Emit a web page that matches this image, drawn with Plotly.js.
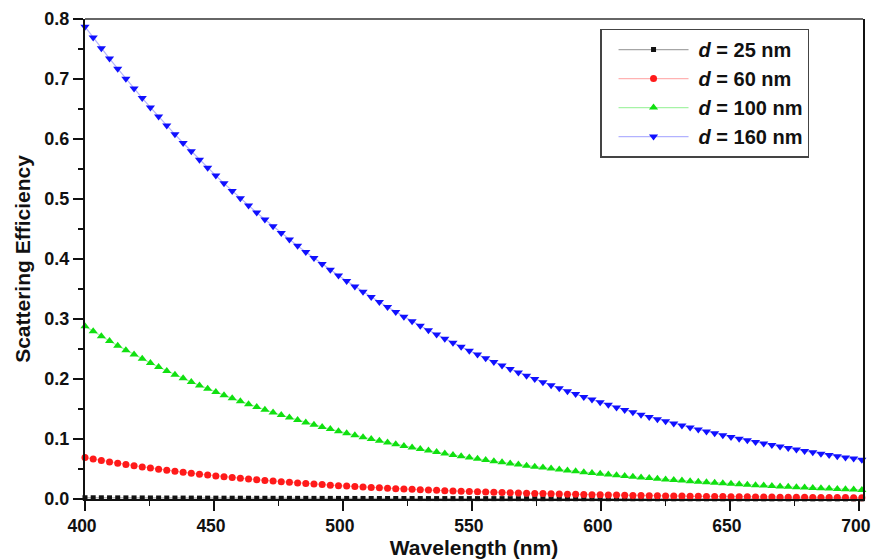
<!DOCTYPE html>
<html>
<head>
<meta charset="utf-8">
<script src="https://cdn.plot.ly/plotly-3.0.1.min.js"></script>
<style>
  html, body { margin: 0; padding: 0; background: #ffffff; }
  #chart { width: 871px; height: 559px; }
</style>
</head>
<body>
<div id="chart"></div>
<script>
// Wavelength grid (nm)
const wavelength = [
  400.00, 403.17, 406.34, 409.51, 412.68, 415.85, 419.02, 422.19, 425.36, 428.53,
  431.70, 434.87, 438.04, 441.21, 444.38, 447.55, 450.72, 453.89, 457.06, 460.23,
  463.40, 466.57, 469.74, 472.91, 476.08, 479.25, 482.42, 485.59, 488.76, 491.93,
  495.10, 498.27, 501.44, 504.61, 507.78, 510.95, 514.12, 517.29, 520.46, 523.63,
  526.80, 529.97, 533.14, 536.31, 539.48, 542.65, 545.82, 548.99, 552.16, 555.33,
  558.50, 561.67, 564.84, 568.01, 571.18, 574.35, 577.52, 580.69, 583.86, 587.03,
  590.20, 593.37, 596.54, 599.71, 602.88, 606.05, 609.22, 612.39, 615.56, 618.73,
  621.90, 625.07, 628.24, 631.41, 634.58, 637.75, 640.92, 644.09, 647.26, 650.43,
  653.60, 656.77, 659.94, 663.11, 666.28, 669.45, 672.62, 675.79, 678.96, 682.13,
  685.30, 688.47, 691.64, 694.81, 697.98, 701.15
];

// Scattering efficiency for each particle diameter
const q25 = [
  0.00210, 0.00205, 0.00200, 0.00195, 0.00190, 0.00186, 0.00181, 0.00177, 0.00173, 0.00168,
  0.00164, 0.00160, 0.00156, 0.00153, 0.00149, 0.00145, 0.00142, 0.00138, 0.00135, 0.00132,
  0.00128, 0.00125, 0.00122, 0.00119, 0.00116, 0.00113, 0.00111, 0.00108, 0.00105, 0.00103,
  0.00100, 0.00098, 0.00095, 0.00093, 0.00091, 0.00088, 0.00086, 0.00084, 0.00082, 0.00080,
  0.00078, 0.00076, 0.00074, 0.00072, 0.00071, 0.00069, 0.00067, 0.00066, 0.00064, 0.00062,
  0.00061, 0.00059, 0.00058, 0.00056, 0.00055, 0.00054, 0.00052, 0.00051, 0.00050, 0.00049,
  0.00047, 0.00046, 0.00045, 0.00044, 0.00043, 0.00042, 0.00041, 0.00040, 0.00039, 0.00038,
  0.00037, 0.00036, 0.00035, 0.00034, 0.00034, 0.00033, 0.00032, 0.00031, 0.00030, 0.00030,
  0.00029, 0.00028, 0.00028, 0.00027, 0.00026, 0.00026, 0.00025, 0.00024, 0.00024, 0.00023,
  0.00023, 0.00022, 0.00022, 0.00021, 0.00020, 0.00020
];

const q60 = [
  0.06900, 0.06653, 0.06415, 0.06185, 0.05964, 0.05750, 0.05544, 0.05346, 0.05155, 0.04970,
  0.04792, 0.04621, 0.04455, 0.04296, 0.04142, 0.03994, 0.03851, 0.03713, 0.03580, 0.03452,
  0.03328, 0.03209, 0.03094, 0.02984, 0.02877, 0.02774, 0.02675, 0.02579, 0.02487, 0.02398,
  0.02312, 0.02229, 0.02149, 0.02072, 0.01998, 0.01927, 0.01858, 0.01791, 0.01727, 0.01665,
  0.01606, 0.01548, 0.01493, 0.01439, 0.01388, 0.01338, 0.01290, 0.01244, 0.01200, 0.01157,
  0.01115, 0.01075, 0.01037, 0.01000, 0.00964, 0.00930, 0.00896, 0.00864, 0.00833, 0.00804,
  0.00775, 0.00747, 0.00720, 0.00695, 0.00670, 0.00646, 0.00623, 0.00600, 0.00579, 0.00558,
  0.00538, 0.00519, 0.00500, 0.00482, 0.00465, 0.00449, 0.00433, 0.00417, 0.00402, 0.00388,
  0.00374, 0.00361, 0.00348, 0.00335, 0.00323, 0.00312, 0.00300, 0.00290, 0.00279, 0.00269,
  0.00260, 0.00250, 0.00241, 0.00233, 0.00224, 0.00216
];

const q100 = [
  0.2880, 0.2795, 0.2713, 0.2633, 0.2556, 0.2481, 0.2407, 0.2336, 0.2267, 0.2200,
  0.2135, 0.2072, 0.2011, 0.1951, 0.1893, 0.1837, 0.1782, 0.1729, 0.1678, 0.1628,
  0.1579, 0.1532, 0.1486, 0.1442, 0.1399, 0.1357, 0.1316, 0.1277, 0.1239, 0.1201,
  0.1165, 0.1130, 0.1096, 0.1063, 0.1031, 0.1000, 0.0970, 0.0941, 0.0912, 0.0885,
  0.0858, 0.0832, 0.0807, 0.0782, 0.0758, 0.0735, 0.0713, 0.0691, 0.0670, 0.0650,
  0.0630, 0.0611, 0.0592, 0.0574, 0.0556, 0.0539, 0.0523, 0.0507, 0.0491, 0.0476,
  0.0461, 0.0447, 0.0433, 0.0420, 0.0407, 0.0395, 0.0382, 0.0371, 0.0359, 0.0348,
  0.0337, 0.0327, 0.0317, 0.0307, 0.0297, 0.0288, 0.0279, 0.0270, 0.0262, 0.0254,
  0.0246, 0.0238, 0.0231, 0.0223, 0.0216, 0.0210, 0.0203, 0.0197, 0.0191, 0.0185,
  0.0179, 0.0173, 0.0168, 0.0162, 0.0157, 0.0152
];

const q160 = [
  0.7871, 0.7690, 0.7513, 0.7340, 0.7171, 0.7005, 0.6842, 0.6683, 0.6527, 0.6374,
  0.6224, 0.6078, 0.5934, 0.5794, 0.5656, 0.5522, 0.5390, 0.5261, 0.5135, 0.5012,
  0.4891, 0.4773, 0.4657, 0.4544, 0.4433, 0.4325, 0.4219, 0.4116, 0.4015, 0.3916,
  0.3819, 0.3724, 0.3632, 0.3541, 0.3453, 0.3366, 0.3282, 0.3199, 0.3118, 0.3039,
  0.2962, 0.2887, 0.2814, 0.2742, 0.2671, 0.2603, 0.2536, 0.2471, 0.2407, 0.2344,
  0.2283, 0.2224, 0.2166, 0.2109, 0.2054, 0.2000, 0.1947, 0.1896, 0.1845, 0.1796,
  0.1749, 0.1702, 0.1657, 0.1612, 0.1569, 0.1527, 0.1485, 0.1445, 0.1406, 0.1368,
  0.1331, 0.1294, 0.1259, 0.1224, 0.1191, 0.1158, 0.1126, 0.1095, 0.1064, 0.1035,
  0.1006, 0.0978, 0.0951, 0.0924, 0.0898, 0.0873, 0.0848, 0.0824, 0.0801, 0.0778,
  0.0756, 0.0734, 0.0713, 0.0693, 0.0673, 0.0653
];

const seriesNames = ['<i>d</i> = 25 nm', '<i>d</i> = 60 nm', '<i>d</i> = 100 nm', '<i>d</i> = 160 nm'];
const seriesValues = [q25, q60, q100, q160];
const markerColors = ['#111111', '#ff1a1a', '#10e010', '#1010ff'];
const lineColors = ['rgba(0,0,0,0.35)', 'rgba(255,0,0,0.3)', 'rgba(0,220,0,0.35)', 'rgba(0,0,255,0.3)'];
const markerSymbols = ['square', 'circle', 'triangle-up', 'triangle-down'];
const markerSizes = [5, 7, 8, 8];

const FONT = 'Liberation Sans, Arial, Helvetica, sans-serif';

const traces = seriesValues.map((vals, i) => ({
  type: 'scatter',
  mode: 'lines+markers',
  x: wavelength,
  y: vals,
  name: seriesNames[i],
  cliponaxis: false,
  line: { color: lineColors[i], width: 1.2 },
  marker: { color: markerColors[i], symbol: markerSymbols[i], size: markerSizes[i], line: { width: 0 } }
}));

const layout = {
  width: 871,
  height: 559,
  margin: { l: 85, r: 8, t: 19, b: 60 },
  paper_bgcolor: '#ffffff',
  plot_bgcolor: '#ffffff',
  showlegend: true,
  legend: {
    x: 0.662, y: 0.98, xanchor: 'left', yanchor: 'top',
    bgcolor: '#ffffff',
    bordercolor: '#444444',
    borderwidth: 1.5,
    font: { family: FONT, size: 20, color: '#111111', weight: 'bold' },
    itemwidth: 87,
    tracegroupgap: 0
  },
  xaxis: {
    range: [400, 701.6],
    dtick: 50,
    tick0: 400,
    ticks: 'outside',
    ticklen: 10,
    tickwidth: 1.5,
    tickcolor: '#111111',
    ticklabelshift: -3,
    minor: { dtick: 25, ticks: 'outside', ticklen: 5, tickwidth: 1.5, tickcolor: '#111111' },
    showline: true,
    linecolor: '#111111',
    linewidth: 2,
    mirror: false,
    showgrid: false,
    zeroline: false,
    tickfont: { family: FONT, size: 17.5, color: '#111111', weight: 'bold' },
    title: { text: 'Wavelength (nm)', font: { family: FONT, size: 21, color: '#111111', weight: 'bold' }, standoff: 2 }
  },
  yaxis: {
    range: [0, 0.8],
    dtick: 0.1,
    tick0: 0,
    tickformat: '.1f',
    ticks: 'outside',
    ticklen: 10,
    tickwidth: 1.5,
    tickcolor: '#111111',
    minor: { dtick: 0.05, ticks: 'outside', ticklen: 5, tickwidth: 1.5, tickcolor: '#111111' },
    showline: true,
    linecolor: '#111111',
    linewidth: 2,
    mirror: true,
    showgrid: false,
    zeroline: false,
    tickfont: { family: FONT, size: 18, color: '#111111', weight: 'bold' },
    title: { text: 'Scattering Efficiency', font: { family: FONT, size: 21, color: '#111111', weight: 'bold' }, standoff: 8 }
  },
  shapes: [
    { type: 'line', xref: 'paper', yref: 'paper', x0: 0, x1: 1, y0: 1, y1: 1,
      line: { color: '#666666', width: 2 } }
  ]
};

Plotly.newPlot('chart', traces, layout, { displayModeBar: false, staticPlot: true }).then(gd => {
  // Longer legend line samples with the symbol centred on them
  gd.querySelectorAll('.legend .traces').forEach(item => {
    item.querySelectorAll('.legendlines path').forEach(p => p.setAttribute('d', 'M17,0h70'));
    item.querySelectorAll('.legendsymbols path').forEach(p => p.setAttribute('transform', 'translate(52,0)'));
  });
});
</script>
</body>
</html>
